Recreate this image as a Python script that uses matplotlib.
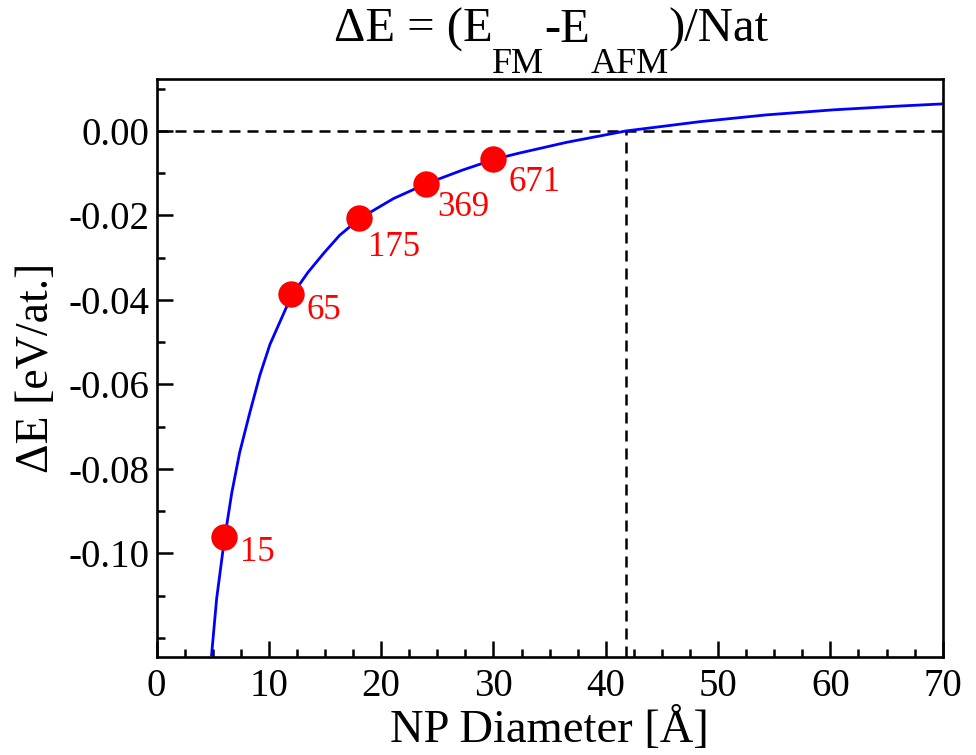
import numpy as np
import matplotlib
matplotlib.use("Agg")
import matplotlib.pyplot as plt
from matplotlib.ticker import MultipleLocator, FixedLocator, FormatStrFormatter

plt.rcParams['font.family'] = ['Liberation Serif', 'DejaVu Serif']
plt.rcParams['axes.unicode_minus'] = False

# Fitted curve
curve_d = [4.9, 5.35, 6.0, 6.7, 7.4, 8.3, 9.2, 10.1, 11.6, 12.1, 13.5, 14.9, 16.3,
           18.1, 21.1, 24.1, 27.2, 30.1, 32.2, 36.5, 41.8, 48.4, 54.3, 60.3,
           66.2, 70.0]
curve_e = [-0.124, -0.1107, -0.0975, -0.0856, -0.0761, -0.0667, -0.0578, -0.0505,
           -0.0415, -0.0387, -0.0334, -0.0289, -0.0247, -0.0207, -0.0160, -0.0124,
           -0.0093, -0.0067, -0.0053, -0.0027, 0.0, 0.0022, 0.0038, 0.0050,
           0.0059, 0.0064]

# Computed nanoparticles
diam = [6, 12, 18, 24, 30]
delta_e = [-0.0962, -0.0387, -0.0207, -0.0126, -0.0067]
n_atoms = ['15', '65', '175', '369', '671']

d_cross = 41.8  # diameter where dE changes sign

fig = plt.figure(figsize=(9.76, 7.55), dpi=100)
ax = fig.add_axes([0.1604, 0.1298, 0.8055, 0.7656])

ax.set_xlim(0, 70)
ax.set_ylim(-0.1245, 0.0123)

# reference lines
ax.axhline(0, color='black', lw=1.8, ls=(0, (4.4, 2.8)), zorder=1)
ax.vlines(d_cross, -0.1245, 0, color='black', lw=1.8, ls=(0, (4.4, 2.8)), zorder=1)

ax.plot(curve_d, curve_e, color='blue', lw=2, zorder=2)
ax.plot(diam, delta_e, 'o', color='red', ms=19, mec='none', zorder=3)

# label offsets (points) for the atom counts
offsets = [(11.5, -11), (11, -11.5), (7, -21), (8, -17), (11, -17)]
for d, e, lab, off in zip(diam, delta_e, n_atoms, offsets):
    ax.annotate(lab, (d, e), xytext=off, textcoords='offset points',
                ha='left', va='center', color='red', fontsize=25)

# ticks
ax.xaxis.set_major_locator(MultipleLocator(10))
ax.xaxis.set_minor_locator(MultipleLocator(2.5))
ax.yaxis.set_major_locator(FixedLocator([-0.10, -0.08, -0.06, -0.04, -0.02, 0.0]))
ax.yaxis.set_minor_locator(FixedLocator([0.01, -0.01, -0.03, -0.05, -0.07,
                                         -0.09, -0.11, -0.12]))
ax.yaxis.set_major_formatter(FormatStrFormatter('%.2f'))
ax.tick_params(which='both', direction='in', top=False, right=False,
               width=1.8, labelsize=28)
ax.tick_params(which='major', length=11.5)
ax.tick_params(which='minor', length=6)
ax.tick_params(axis='y', pad=5)
ax.tick_params(axis='x', pad=8)
for s in ax.spines.values():
    s.set_linewidth(1.9)

ax.set_xlabel('NP Diameter [Å]', fontsize=33.5)
ax.set_ylabel('ΔE [eV/at.]', fontsize=33)
ax.xaxis.set_label_coords(0.5, -0.088)
ax.yaxis.set_label_coords(-0.125, 0.5)

# title with large, lowered subscripts
fig.canvas.draw()
r = fig.canvas.get_renderer()
pieces = [("ΔE = (E", 35, 0), ("FM", 26, -31), ("-E", 35, 0),
          ("AFM", 26, -31), (")/Nat", 35, 0)]
texts = []
for s, fs, dy in pieces:
    t = fig.text(0, 0, s, fontsize=fs, ha='left', va='baseline', transform=None)
    texts.append((t, dy))
widths = [t.get_window_extent(r).width for t, _ in texts]
x = 551 - sum(widths) / 2
base = 755 - 42
for (t, dy), w in zip(texts, widths):
    t.set_position((x, base + dy))
    x += w

fig.savefig('out.png', dpi=100)
